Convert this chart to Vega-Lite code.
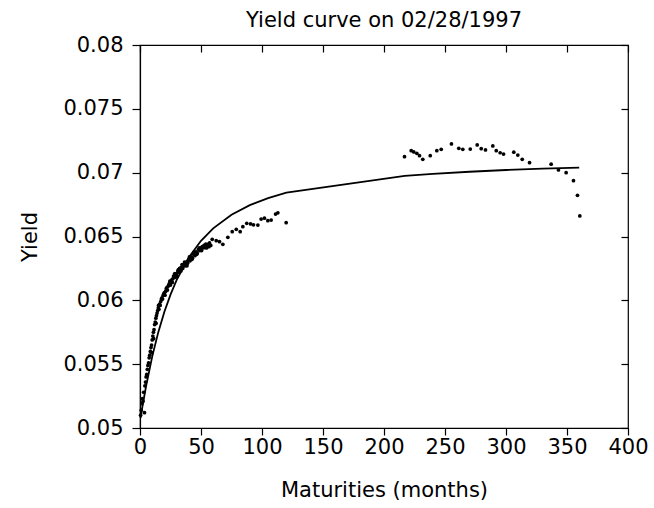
{
  "$schema": "https://vega.github.io/schema/vega-lite/v6.json",
  "width": 488,
  "height": 383,
  "autosize": "none",
  "padding": {"left": 140, "top": 45, "right": 26, "bottom": 80},
  "background": "white",
  "title": {"text": "Yield curve on 02/28/1997", "frame": "group", "anchor": "middle", "fontSize": 21, "fontWeight": "normal", "font": "DejaVu Sans", "color": "black", "offset": 3},
  "config": {
    "font": "DejaVu Sans",
    "view": {"stroke": "black", "strokeWidth": 1.2},
    "axis": {"domainColor": "black", "tickColor": "black", "labelColor": "black", "titleColor": "black", "labelFontSize": 21, "titleFontSize": 21, "titleFontWeight": "normal", "grid": false, "labelFont": "DejaVu Sans", "titleFont": "DejaVu Sans", "domainWidth": 1.2, "tickWidth": 1.2, "labelFlush": false, "labelOverlap": false}
  },
  "datasets": {
    "obs": [
      {"m":0.5,"y":0.0510},{"m":1,"y":0.0514},{"m":1.5,"y":0.0519},{"m":2,"y":0.0523},{"m":2.5,"y":0.0521},{"m":3,"y":0.0528},{"m":3.7,"y":0.0512},{"m":4,"y":0.0533},{"m":4.5,"y":0.0536},{"m":5,"y":0.0540},{"m":5.5,"y":0.0542},{"m":6,"y":0.0546},{"m":6.5,"y":0.0549},{"m":7,"y":0.0551},{"m":7.5,"y":0.0555},{"m":8,"y":0.0557},{"m":8.5,"y":0.0560},{"m":9,"y":0.0563},{"m":9.5,"y":0.0565},{"m":9.7,"y":0.0559},{"m":10,"y":0.0569},{"m":10.5,"y":0.0572},{"m":11,"y":0.0575},{"m":11.2,"y":0.0570},{"m":11.5,"y":0.0577},{"m":12,"y":0.0581},{"m":12.5,"y":0.0583},{"m":13,"y":0.0586},{"m":13.2,"y":0.0582},{"m":13.5,"y":0.0588},{"m":14,"y":0.0590},{"m":14.5,"y":0.0592},{"m":15,"y":0.0594},{"m":15.2,"y":0.0596},{"m":15.5,"y":0.0593},{"m":16,"y":0.0597},{"m":16.5,"y":0.0596},{"m":17,"y":0.0599},{"m":17.5,"y":0.0601},{"m":18,"y":0.0602},{"m":18.5,"y":0.0601},{"m":19,"y":0.0604},{"m":19.5,"y":0.0605},{"m":20,"y":0.0606},{"m":20.5,"y":0.0604},{"m":21,"y":0.0607},{"m":21.5,"y":0.0609},{"m":22,"y":0.0610},{"m":22.5,"y":0.0608},{"m":23,"y":0.0611},{"m":23.5,"y":0.0612},{"m":24,"y":0.0613},{"m":24.5,"y":0.0615},{"m":25,"y":0.0612},{"m":25.5,"y":0.0614},{"m":26,"y":0.0616},{"m":26.5,"y":0.0614},{"m":27,"y":0.0617},{"m":27.5,"y":0.0619},{"m":28,"y":0.0619},{"m":28.5,"y":0.0621},{"m":29,"y":0.0618},{"m":29.5,"y":0.0620},{"m":30,"y":0.0621},{"m":30.5,"y":0.0619},{"m":31,"y":0.0623},{"m":31.5,"y":0.0624},{"m":32,"y":0.0622},{"m":32.5,"y":0.0625},{"m":33,"y":0.0625},{"m":33.5,"y":0.0623},{"m":34,"y":0.0626},{"m":34.5,"y":0.0628},{"m":35,"y":0.0625},{"m":35.5,"y":0.0627},{"m":36,"y":0.0628},{"m":36.5,"y":0.0630},{"m":37,"y":0.0627},{"m":37.5,"y":0.0629},{"m":38,"y":0.0630},{"m":38.5,"y":0.0627},{"m":39,"y":0.0629},{"m":39.5,"y":0.0631},{"m":40,"y":0.0632},{"m":40.5,"y":0.0634},{"m":41,"y":0.0631},{"m":42,"y":0.0634},{"m":42.5,"y":0.0632},{"m":43,"y":0.0633},{"m":44,"y":0.0636},{"m":44.5,"y":0.0638},{"m":45,"y":0.0635},{"m":46,"y":0.0638},{"m":46.5,"y":0.0636},{"m":47,"y":0.0637},{"m":48,"y":0.0640},{"m":48.5,"y":0.0641},{"m":49,"y":0.0639},{"m":50,"y":0.0641},{"m":50.5,"y":0.0639},{"m":51,"y":0.0642},{"m":52,"y":0.0641},{"m":52.5,"y":0.0643},{"m":53,"y":0.0643},{"m":54,"y":0.0644},{"m":54.5,"y":0.0641},{"m":55,"y":0.0642},{"m":56,"y":0.0644},{"m":56.5,"y":0.0642},{"m":57,"y":0.0645},{"m":58,"y":0.0643},
      {"m":59.2,"y":0.06478},{"m":62.5,"y":0.06467},{"m":65.2,"y":0.06459},{"m":67.9,"y":0.06439},{"m":72,"y":0.06494},{"m":75.6,"y":0.06538},{"m":78.9,"y":0.06556},{"m":82.1,"y":0.06538},{"m":84.3,"y":0.06577},{"m":87.5,"y":0.06603},{"m":90.6,"y":0.06598},{"m":93,"y":0.06592},{"m":96.6,"y":0.0659},{"m":99.3,"y":0.06637},{"m":102,"y":0.06643},{"m":104.8,"y":0.06624},{"m":107.5,"y":0.06629},{"m":111.1,"y":0.06676},{"m":113,"y":0.06686},{"m":119.8,"y":0.06608},
      {"m":216.8,"y":0.07125},{"m":222.3,"y":0.07172},{"m":224.4,"y":0.07162},{"m":226.9,"y":0.07152},{"m":229.1,"y":0.07133},{"m":231.8,"y":0.07105},{"m":237.9,"y":0.07133},{"m":243.3,"y":0.07172},{"m":246.9,"y":0.07183},{"m":255.3,"y":0.07225},{"m":261.3,"y":0.07191},{"m":264.6,"y":0.07183},{"m":270.7,"y":0.07185},{"m":276.4,"y":0.07217},{"m":279.7,"y":0.07188},{"m":283.2,"y":0.07178},{"m":289.2,"y":0.07209},{"m":292,"y":0.07172},{"m":295.2,"y":0.07156},{"m":298,"y":0.07146},{"m":306.4,"y":0.0716},{"m":309.7,"y":0.07138},{"m":313.3,"y":0.07105},{"m":319.3,"y":0.07078},{"m":337,"y":0.07066},{"m":343,"y":0.07021},{"m":349.3,"y":0.07},{"m":355.3,"y":0.06937},{"m":358.6,"y":0.06823},{"m":360.5,"y":0.06661}
    ],
    "fit": [
      {"m":0.5,"y":0.0508},{"m":2,"y":0.05169},{"m":5,"y":0.05329},{"m":10,"y":0.05559},{"m":15,"y":0.05751},{"m":20,"y":0.05911},{"m":25,"y":0.06045},{"m":30,"y":0.06158},{"m":40,"y":0.06336},{"m":50,"y":0.06466},{"m":60,"y":0.06564},{"m":75,"y":0.06671},{"m":90,"y":0.06746},{"m":105,"y":0.06801},{"m":120,"y":0.06844},{"m":217,"y":0.06975},{"m":240,"y":0.06991},{"m":270,"y":0.07007},{"m":300,"y":0.07021},{"m":330,"y":0.07031},{"m":360,"y":0.0704}
    ]
  },
  "layer": [
    {
      "data": {"name": "obs"},
      "mark": {"type": "circle", "color": "black", "size": 14, "opacity": 1},
      "encoding": {
        "x": {"field": "m", "type": "quantitative", "scale": {"domain": [0, 400], "nice": false},
              "axis": {"orient": "bottom", "values": [0,50,100,150,200,250,300,350,400], "tickSize": 7, "labelPadding": 1, "title": "Maturities (months)", "titlePadding": 22}},
        "y": {"field": "y", "type": "quantitative", "scale": {"domain": [0.05, 0.08], "nice": false, "zero": false},
              "axis": {"orient": "left", "values": [0.05,0.055,0.06,0.065,0.07,0.075,0.08], "format": "~g", "tickSize": 8, "labelPadding": 9, "title": "Yield", "titlePadding": 22}}
      }
    },
    {
      "data": {"name": "fit"},
      "mark": {"type": "line", "color": "black", "strokeWidth": 1.8},
      "encoding": {
        "x": {"field": "m", "type": "quantitative", "scale": {"domain": [0, 400], "nice": false},
              "axis": {"orient": "top", "values": [0,50,100,150,200,250,300,350,400], "tickSize": -7, "labels": false, "title": null, "domain": false, "minExtent": 0, "maxExtent": 0, "labelPadding": 0}},
        "y": {"field": "y", "type": "quantitative", "scale": {"domain": [0.05, 0.08], "nice": false, "zero": false},
              "axis": {"orient": "right", "values": [0.05,0.055,0.06,0.065,0.07,0.075,0.08], "tickSize": -7, "labels": false, "title": null, "domain": false, "minExtent": 0, "maxExtent": 0, "labelPadding": 0}}
      }
    }
  ],
  "resolve": {"axis": {"x": "independent", "y": "independent"}}
}
